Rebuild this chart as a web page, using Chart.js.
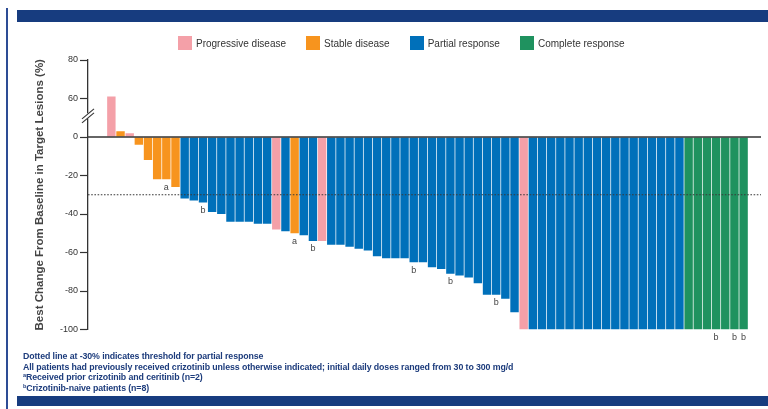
<!DOCTYPE html>
<html>
<head>
<meta charset="utf-8">
<script src="https://cdn.jsdelivr.net/npm/chart.js@4/dist/chart.umd.min.js"></script>
<style>
  html, body { margin: 0; padding: 0; background: #fff; }
  body { width: 768px; height: 409px; position: relative; overflow: hidden; font-family: "Liberation Sans", Arial, sans-serif; }
  .frame-left { position: absolute; left: 6px; top: 8px; width: 2px; height: 401px; background: #2d4c95; }
  .band { position: absolute; left: 17px; right: 0; background: #173c7f; }
  .band.top { top: 10px; height: 12px; }
  .band.bottom { top: 396px; height: 10px; }
  #chart { position: absolute; left: 0; top: 0; }
  #legend { position: absolute; top: 36px; left: 178px; display: flex; align-items: center; font-size: 10px; color: #333; }
  #legend .item { display: flex; align-items: center; margin-right: 20px; white-space: nowrap; }
  #legend .swatch { width: 14px; height: 14px; margin-right: 4px; }
  .notes { position: absolute; left: 23px; top: 351px; font-weight: bold; font-size: 8.8px; line-height: 10.5px; color: #1d3c7c; white-space: nowrap; letter-spacing: -0.1px; }
  .notes sup { font-size: 5.5px; vertical-align: 3px; line-height: 0; }
</style>
</head>
<body>
<div class="frame-left"></div>
<div class="band top"></div>
<canvas id="chart" width="768" height="409"></canvas>
<div id="legend"></div>
<div class="notes">
  <div>Dotted line at -30% indicates threshold for partial response</div>
  <div>All patients had previously received crizotinib unless otherwise indicated; initial daily doses ranged from 30 to 300 mg/d</div>
  <div><sup>a</sup>Received prior crizotinib and ceritinib (n=2)</div>
  <div><sup>b</sup>Crizotinib-naive patients (n=8)</div>
</div>
<div class="band bottom"></div>

<script>
// Best response categories, in legend order
const categories = ['Progressive disease', 'Stable disease', 'Partial response', 'Complete response'];
const categoryCodes = ['PD', 'SD', 'PR', 'CR'];
const categoryColors = ['#f4a0a8', '#f7941e', '#0070ba', '#1f925f'];

// Best change from baseline in target lesions (%), one entry per patient, sorted
const bestChange = [
  61, 3, 2, -4, -12, -22, -22, -26, -32, -33,
  -34, -39, -40, -44, -44, -44, -45, -45, -48, -49,
  -50, -51, -54, -54, -56, -56, -57, -58, -59, -62,
  -63, -63, -63, -65, -65, -67.7, -68.6, -71, -72, -73,
  -76, -82, -82, -84, -91, -100, -100, -100, -100, -100,
  -100, -100, -100, -100, -100, -100, -100, -100, -100, -100,
  -100, -100, -100, -100, -100, -100, -100, -100, -100, -100
];

// Best overall response per patient
const bestResponse = [
  'PD', 'SD', 'PD', 'SD', 'SD', 'SD', 'SD', 'SD', 'PR', 'PR',
  'PR', 'PR', 'PR', 'PR', 'PR', 'PR', 'PR', 'PR', 'PD', 'PR',
  'SD', 'PR', 'PR', 'PD', 'PR', 'PR', 'PR', 'PR', 'PR', 'PR',
  'PR', 'PR', 'PR', 'PR', 'PR', 'PR', 'PR', 'PR', 'PR', 'PR',
  'PR', 'PR', 'PR', 'PR', 'PR', 'PD', 'PR', 'PR', 'PR', 'PR',
  'PR', 'PR', 'PR', 'PR', 'PR', 'PR', 'PR', 'PR', 'PR', 'PR',
  'PR', 'PR', 'PR', 'CR', 'CR', 'CR', 'CR', 'CR', 'CR', 'CR'
];

// Footnoted patients (1-based position along the waterfall)
const priorCeritinibPatients = [7, 21];                           // "a"
const crizotinibNaivePatients = [11, 23, 34, 38, 43, 67, 69, 70]; // "b"

// Y axis tick labels; values between 20 and 60 are cut out by the axis break
const yTickLabels = [80, 60, 0, -20, -40, -60, -80, -100];
const breakStart = 20;
const breakSize = 40;
const partialResponseThreshold = -30;

// Map a real percentage onto the broken axis
function toAxis(v) { return v >= breakStart ? v - breakSize : v; }

const datasets = categoryCodes.map((code, c) => ({
  label: categories[c],
  backgroundColor: categoryColors[c],
  borderWidth: 0,
  grouped: false,
  barPercentage: 0.92,
  categoryPercentage: 1.0,
  data: bestChange
    .map((v, i) => ({ x: i + 1, y: toAxis(v), code: bestResponse[i] }))
    .filter(p => p.code === code)
}));

// Legend as HTML, built from the chart's own legend items
const htmlLegend = {
  id: 'htmlLegend',
  afterUpdate(chart) {
    const box = document.getElementById('legend');
    box.innerHTML = '';
    Chart.defaults.plugins.legend.labels.generateLabels(chart).forEach(item => {
      const el = document.createElement('div');
      el.className = 'item';
      const sw = document.createElement('span');
      sw.className = 'swatch';
      sw.style.background = item.fillStyle;
      const tx = document.createElement('span');
      tx.textContent = item.text;
      el.appendChild(sw);
      el.appendChild(tx);
      box.appendChild(el);
    });
  }
};

// Zero line, dotted threshold line and footnote letters drawn over the bars
const overlays = {
  id: 'overlays',
  afterDatasetsDraw(chart) {
    const { ctx, chartArea: { left, right }, scales: { y } } = chart;
    ctx.save();
    const y0 = y.getPixelForValue(0);
    ctx.strokeStyle = '#333';
    ctx.lineWidth = 1.5;
    ctx.beginPath();
    ctx.moveTo(left, y0);
    ctx.lineTo(right, y0);
    ctx.stroke();

    const yt = y.getPixelForValue(toAxis(partialResponseThreshold));
    ctx.setLineDash([1.6, 1.6]);
    ctx.strokeStyle = '#3a3a3a';
    ctx.lineWidth = 1.2;
    ctx.beginPath();
    ctx.moveTo(left, yt);
    ctx.lineTo(right, yt);
    ctx.stroke();
    ctx.setLineDash([]);

    ctx.font = '9px "Liberation Sans", Arial, sans-serif';
    ctx.fillStyle = '#444';
    ctx.textAlign = 'center';
    ctx.textBaseline = 'middle';
    chart.data.datasets.forEach((ds, di) => {
      const meta = chart.getDatasetMeta(di);
      meta.data.forEach((bar, j) => {
        const patient = ds.data[j].x;
        let mark = '';
        if (priorCeritinibPatients.includes(patient)) mark = 'a';
        if (crizotinibNaivePatients.includes(patient)) mark = 'b';
        if (mark) ctx.fillText(mark, bar.x, Math.max(bar.y, bar.base) + 8);
      });
    });
    ctx.restore();
  },
  afterDraw(chart) {
    // Axis break marks between 0 and 60
    const { ctx, chartArea: { left }, scales: { y } } = chart;
    const cy = y.getPixelForValue(11);
    ctx.save();
    ctx.fillStyle = '#fff';
    ctx.fillRect(left - 2, cy - 2.5, 4, 5);
    ctx.strokeStyle = '#333';
    ctx.lineWidth = 1.1;
    [-2, 2].forEach(o => {
      ctx.beginPath();
      ctx.moveTo(left - 6, cy + 5 + o);
      ctx.lineTo(left + 6, cy - 5 + o);
      ctx.stroke();
    });
    ctx.restore();
  }
};

new Chart(document.getElementById('chart'), {
  type: 'bar',
  data: { datasets },
  plugins: [htmlLegend, overlays],
  options: {
    responsive: false,
    animation: false,
    devicePixelRatio: 1,
    layout: { padding: { left: 30, right: 7, top: 60, bottom: 79.5 } },
    plugins: {
      legend: { display: false },
      tooltip: { enabled: false }
    },
    scales: {
      x: {
        type: 'linear',
        display: false,
        offset: false,
        bounds: 'data',
        grid: { offset: false },
        min: -1.55,
        max: 71.9
      },
      y: {
        min: -100,
        max: 40,
        afterBuildTicks(scale) {
          scale.ticks = yTickLabels.map(v => ({ value: toAxis(v) }));
        },
        afterFit(scale) { scale.width = 58; },
        border: { color: '#333', width: 1.3 },
        grid: { drawOnChartArea: false, drawTicks: true, tickLength: 8, tickColor: '#333', tickWidth: 1.2 },
        ticks: {
          font: { size: 9, family: '"Liberation Sans", Arial, sans-serif' },
          color: '#333',
          padding: 2,
          callback(value) {
            return value > 0 ? value + breakSize : value;
          }
        },
        title: {
          display: true,
          text: 'Best Change From Baseline in Target Lesions (%)',
          font: { size: 11.5, weight: 'bold', family: '"Liberation Sans", Arial, sans-serif' },
          color: '#444',
          padding: { top: 3, bottom: 0 }
        }
      }
    }
  }
});
</script>
</body>
</html>
